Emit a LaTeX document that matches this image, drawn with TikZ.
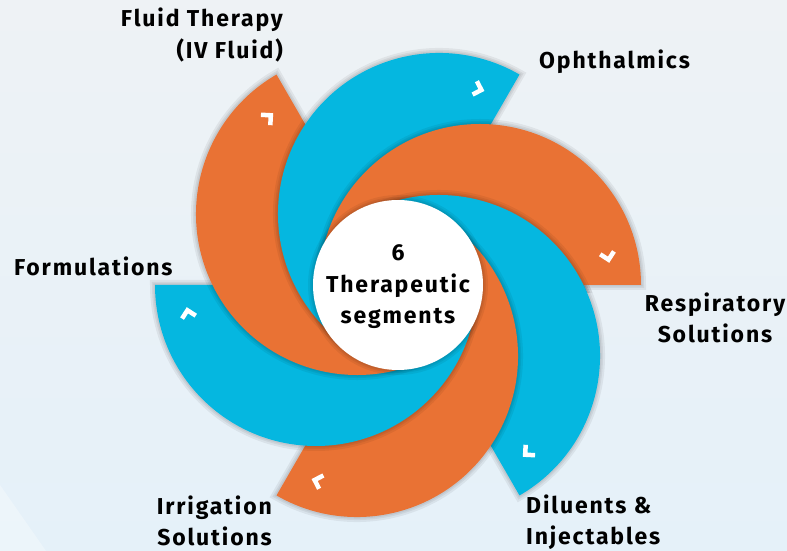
\documentclass[tikz,border=0pt]{standalone}
\usepackage{fontspec}
\setmainfont{Fira Sans}[LetterSpace=8]
\usetikzlibrary{calc}

\definecolor{segorange}{RGB}{233,114,52}
\definecolor{segblue}{RGB}{5,183,224}
\definecolor{bgtop}{RGB}{238,242,245}
\definecolor{bgbot}{RGB}{229,241,249}

\tikzset{
  bladeat/.style={insert path={($(c#1)+(#1:161)$) arc[start angle=#1, delta angle=180, radius=161]
      -- ++(#1:91) arc[start angle=#1+180, delta angle=-180, radius=70] -- cycle}},
  halo/.style={black, opacity=0.06}
}

\begin{document}
\begin{tikzpicture}[x=1pt, y=1pt,
  lbl/.style={font=\fontsize{23}{31.5}\selectfont\bfseries, inner sep=0pt},
  chev/.style={white, line width=4.5pt, line join=miter}]
\useasboundingbox (0,0) rectangle (787,551);
\shade[top color=bgtop, bottom color=bgbot] (0,0) rectangle (787,551);
\fill[white, opacity=0.3] (0,66) -- (46,0) -- (0,0) -- cycle;

\coordinate (O) at (398,266);
\foreach \a in {0,60,...,300}
  \coordinate (c\a) at ($(O)+(\a:82)$);

% blades, each one over the next
\foreach \a/\c in {300/segblue, 240/segorange, 180/segblue, 120/segorange, 60/segblue, 0/segorange}{
  \foreach \w in {10,6,3}
    \draw[halo, line width=\w pt, bladeat=\a];
  \fill[\c, bladeat=\a];
  \begin{scope}[shift={($(c\a)+(\a+12:131)$)}, rotate=\a-78]
    \draw[chev] (-5,7) -- (2,0) -- (-5,-7);
  \end{scope}
}
% close the ring: diluents blade over the respiratory one
\begin{scope}
  \clip ($(c0)+(0:161)$) arc[start angle=0, delta angle=180, radius=161]
    -- ++(0,-8) -- ($(c0)+(0:161)+(0,-8)$) -- cycle;
  \foreach \a/\c in {300/segblue, 240/segorange}{
    \foreach \w in {10,6,3}
      \draw[halo, line width=\w pt, bladeat=\a];
    \fill[\c, bladeat=\a];
  }
\end{scope}

% hub
\foreach \w in {10,6,3}
  \draw[halo, line width=\w pt] (O) circle[radius=85];
\node[circle, fill=white, minimum size=170pt, inner sep=0pt] (hub) at (O) {};
\node[lbl, align=center] (hubtext) at ($(O)+(0,-2)$) {6\\Therapeutic\\segments};

% labels
\node[lbl, anchor=east, align=right] (fluid) at (283,516) {Fluid Therapy\\(IV Fluid)};
\node[lbl, anchor=west] (ophth) at (539,489) {Ophthalmics};
\node[lbl, anchor=west] (formul) at (14,285) {Formulations};
\node[lbl, align=center] (resp) at (715,233) {Respiratory\\Solutions};
\node[lbl, anchor=west, align=left] (dilu) at (526,29) {Diluents \&\\Injectables};
\node[lbl, anchor=east, align=right] (irrig) at (272,30) {Irrigation\\Solutions};
\end{tikzpicture}
\end{document}
